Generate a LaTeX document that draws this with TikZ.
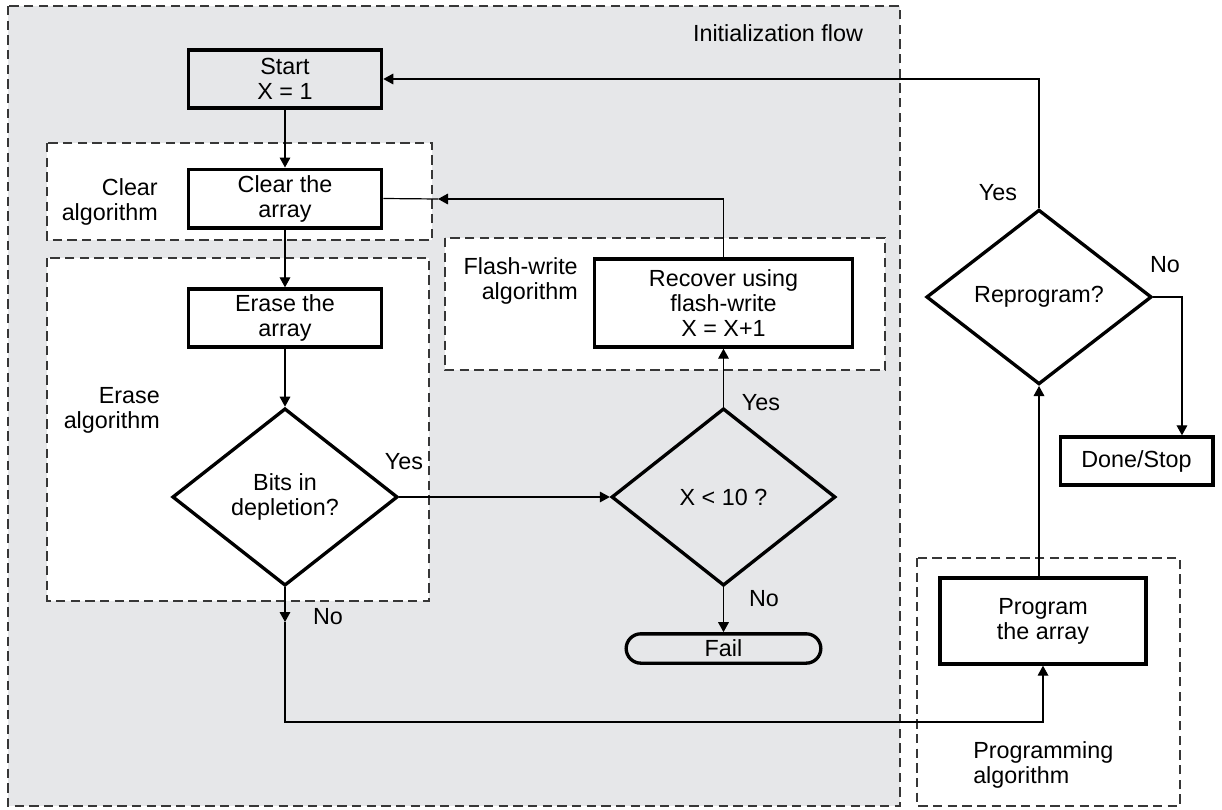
\documentclass[tikz,border=0pt]{standalone}
\usepackage{fontspec}
\setmainfont{Liberation Sans}
\usetikzlibrary{arrows.meta,shapes.geometric,shapes.misc}
\definecolor{bggray}{RGB}{230,231,233}
\definecolor{dashgray}{RGB}{55,55,55}
\begin{document}
\begin{tikzpicture}[x=0.75pt,y=-0.75pt,
  font=\fontsize{17.5}{18.8}\selectfont,
  box/.style={draw, line width=2.5pt, rectangle, align=center, inner sep=0pt},
  dec/.style={draw, line width=2.5pt, diamond, align=center, inner sep=0pt},
  conn/.style={line width=0.9pt},
  arr/.style={conn, -{Triangle[length=7.5pt,width=8pt]}},
  region/.style={draw=dashgray, line width=0.9pt, dash pattern=on 7pt off 4pt},
  lbl/.style={inner sep=0pt}]

\useasboundingbox (0,0) rectangle (1222,810);

% regions
\draw[region, fill=bggray] (8,6) rectangle (900,806);
\draw[region, fill=white] (917,558) rectangle (1180,806);
\draw[region, fill=white] (47,143) rectangle (432,240);
\draw[region, fill=white] (47,258) rectangle (429,601);
\draw[region, fill=white] (445,238) rectangle (885,370);

% nodes
\node[box, fill=bggray, minimum width=145pt, minimum height=43.5pt] (start) at (285,79) {Start\\X = 1};
\node[box, fill=white, minimum width=145pt, minimum height=44pt] (clear) at (285,198.5) {Clear the\\array};
\node[box, fill=white, minimum width=145pt, minimum height=43.5pt] (erase) at (285,318) {Erase the\\array};
\node[dec, fill=white, minimum width=169pt, minimum height=133pt] (bits) at (285,497) {Bits in\\depletion?};
\node[dec, fill=bggray, minimum width=168pt, minimum height=133pt] (xlt) at (723.5,497) {X < 10 ?};
\node[box, fill=white, minimum width=193.5pt, minimum height=66pt] (rec) at (723.5,303) {Recover using\\flash-write\\X = X+1};
\node[draw, line width=2.5pt, rounded rectangle, fill=bggray, minimum width=146pt, minimum height=22pt, inner sep=0pt] (fail) at (723.5,648.5) {Fail};
\node[dec, fill=white, minimum width=169pt, minimum height=131pt] (repr) at (1039,297) {Reprogram?};
\node[box, fill=white, minimum width=114.5pt, minimum height=36pt] (done) at (1136.5,461) {Done/Stop};
\node[box, fill=white, minimum width=154.5pt, minimum height=64.5pt] (prog) at (1043,621) {Program\\the array};

% labels
\node[lbl, align=right, anchor=east] (lclear) at (158,202) {Clear\\algorithm};
\node[lbl, align=right, anchor=east] (lerase) at (160,410) {Erase\\algorithm};
\node[lbl, align=right, anchor=east] (lflash) at (578,281) {Flash-write\\algorithm};
\node[lbl, align=left, anchor=west] (lprog) at (973,765) {Programming\\algorithm};
\node[lbl] (linit) at (778,33) {Initialization flow};
\node[lbl] (y1) at (404,462) {Yes};
\node[lbl] (n1) at (328,617) {No};
\node[lbl] (y2) at (761,403) {Yes};
\node[lbl] (n2) at (764,599) {No};
\node[lbl] (y3) at (998,193) {Yes};
\node[lbl] (n3) at (1165,265) {No};

% connectors
\draw[arr] (start.south) -- (clear.north);
\draw[arr] (clear.south) -- (erase.north);
\draw[arr] (erase.south) -- (bits.north);
\draw[arr] (bits.east) -- (xlt.west);
\draw[arr] (xlt.south) -- (fail.north);
\draw[arr] (xlt.north) -- (rec.south);
\coordinate (cin) at (438,199);
\draw[arr] (rec.north) |- (cin);
\draw[conn] (cin) -- (clear.east);
\coordinate (nmid) at (285,622);
\coordinate (nlow) at (285,722);
\draw[arr] (bits.south) -- (nmid);
\draw[arr] (nmid) -- (nlow) -| (prog.south);
\draw[arr] (repr.south |- prog.north) -- (repr.south);
\draw[arr] (repr.north) |- (start.east);
\draw[arr] (repr.east) -| ([xshift=34.1pt]done.north);
\end{tikzpicture}
\end{document}
